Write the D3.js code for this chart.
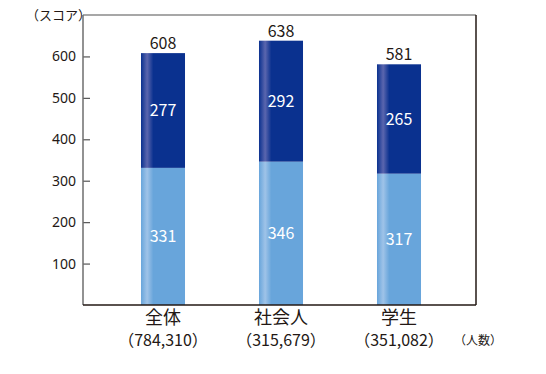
<!DOCTYPE html>
<html>
<head>
<meta charset="utf-8">
<script src="https://cdn.jsdelivr.net/npm/d3@7"></script>
<style>
  body { margin: 0; background: #fff; }
  svg { display: block; font-family: "Noto Sans CJK JP", "Noto Sans", sans-serif; }
</style>
</head>
<body>
<div id="chart"></div>
<script>
// データ
const categories = ["全体", "社会人", "学生"];
const counts = ["（784,310）", "（315,679）", "（351,082）"];
const lowerScores = [331, 346, 317];
const upperScores = [277, 292, 265];
const totals = [608, 638, 581];
const yTicks = [100, 200, 300, 400, 500, 600];

const width = 546, height = 374;
const plot = { left: 83, right: 476, top: 15, bottom: 305 };
const textColor = "#231815";

const svg = d3.select("#chart").append("svg")
  .attr("width", width)
  .attr("height", height);

// 棒の光沢グラデーション
const defs = svg.append("defs");
function addGradient(id, base, light) {
  const g = defs.append("linearGradient").attr("id", id)
    .attr("x1", "0%").attr("x2", "100%").attr("y1", "0%").attr("y2", "0%");
  g.append("stop").attr("offset", "0%").attr("stop-color", base);
  g.append("stop").attr("offset", "14%").attr("stop-color", light);
  g.append("stop").attr("offset", "28%").attr("stop-color", base);
  g.append("stop").attr("offset", "100%").attr("stop-color", base);
}
addGradient("gradDark", "#0a318f", "#5b66ae");
addGradient("gradLight", "#68a5db", "#9fc3e8");

const x = d3.scaleBand()
  .domain(categories)
  .range([104, 458])
  .paddingInner(0.627)
  .paddingOuter(0.3135);

const y = d3.scaleLinear()
  .domain([0, 700])
  .range([plot.bottom, plot.top]);

// 枠線
svg.append("line").attr("x1", plot.left).attr("x2", plot.right)
  .attr("y1", plot.top).attr("y2", plot.top)
  .attr("stroke", "#8a8a8a").attr("stroke-width", 1.5);
svg.append("line").attr("x1", plot.right).attr("x2", plot.right)
  .attr("y1", plot.top).attr("y2", plot.bottom)
  .attr("stroke", textColor).attr("stroke-width", 1.5);

// 棒
categories.forEach((c, i) => {
  svg.append("rect")
    .attr("x", x(c)).attr("width", x.bandwidth())
    .attr("y", y(lowerScores[i]))
    .attr("height", y(0) - y(lowerScores[i]))
    .attr("fill", "url(#gradLight)");
  svg.append("rect")
    .attr("x", x(c)).attr("width", x.bandwidth())
    .attr("y", y(totals[i]))
    .attr("height", y(lowerScores[i]) - y(totals[i]))
    .attr("fill", "url(#gradDark)");

  const cx = x(c) + x.bandwidth() / 2;
  svg.append("text").attr("x", cx).attr("y", y(lowerScores[i] / 2) + 6)
    .attr("text-anchor", "middle").attr("fill", "#fff")
    .style("font-size", "16px").text(lowerScores[i]);
  svg.append("text").attr("x", cx).attr("y", y(lowerScores[i] + upperScores[i] / 2) + 6)
    .attr("text-anchor", "middle").attr("fill", "#fff")
    .style("font-size", "16px").text(upperScores[i]);
  svg.append("text").attr("x", cx).attr("y", y(totals[i]) - 4)
    .attr("text-anchor", "middle").attr("fill", textColor)
    .style("font-size", "16px").text(totals[i]);

  svg.append("text").attr("x", cx).attr("y", 324)
    .attr("text-anchor", "middle").attr("fill", textColor)
    .style("font-size", "18px").text(c);
  svg.append("text").attr("x", cx).attr("y", 346)
    .attr("text-anchor", "middle").attr("fill", textColor)
    .style("font-size", "16px").text(counts[i]);
});

// Y軸
const yAxis = svg.append("g")
  .attr("transform", `translate(${plot.left},0)`)
  .call(d3.axisRight(y).tickValues(yTicks).tickSize(7).tickFormat(d3.format("d")));
yAxis.select(".domain").remove();
yAxis.selectAll(".tick line").attr("stroke", "#555").attr("stroke-width", 1.2);
yAxis.selectAll(".tick text")
  .attr("x", -7).attr("text-anchor", "end")
  .attr("fill", textColor)
  .style("font-size", "14px")
  .style("font-family", "'Noto Sans', sans-serif");

// 左と下の軸線
svg.append("line").attr("x1", plot.left).attr("x2", plot.left)
  .attr("y1", plot.top).attr("y2", plot.bottom)
  .attr("stroke", "#6e6e6e").attr("stroke-width", 1.5);
svg.append("line").attr("x1", plot.left).attr("x2", plot.right)
  .attr("y1", plot.bottom).attr("y2", plot.bottom)
  .attr("stroke", textColor).attr("stroke-width", 1.5);

// 単位
svg.append("text").attr("x", 26).attr("y", 20)
  .attr("fill", textColor).style("font-size", "13px").text("（スコア）");
svg.append("text").attr("x", 454).attr("y", 345)
  .attr("fill", textColor).style("font-size", "12px").text("（人数）");
</script>
</body>
</html>
